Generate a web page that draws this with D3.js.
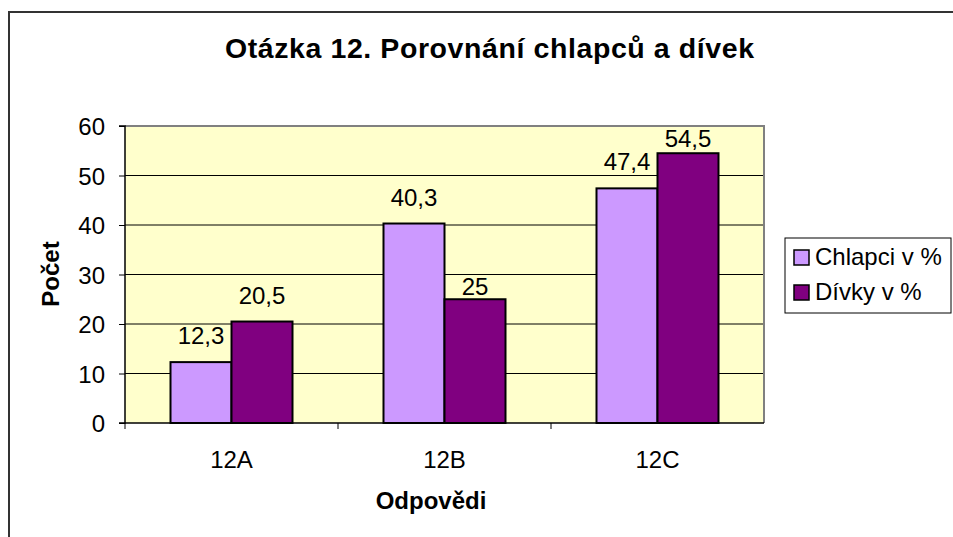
<!DOCTYPE html>
<html><head><meta charset="utf-8">
<script src="https://cdn.jsdelivr.net/npm/d3@7"></script>
<style>body{margin:0;background:#fff;}svg{display:block;font-family:"Liberation Sans",Arial,sans-serif;}</style>
</head><body>
<svg id="c" width="953" height="537"></svg>
<script>
const categories = ["12A", "12B", "12C"];
const seriesNames = ["Chlapci v %", "Dívky v %"];
const chlapci = [12.3, 40.3, 47.4];
const divky = [20.5, 25, 54.5];
const yTicks = [0, 10, 20, 30, 40, 50, 60];
const colors = ["#CC99FF", "#800080"];
const titleText = "Otázka 12. Porovnání chlapců a dívek";
const yTitle = "Počet";
const xTitle = "Odpovědi";

const svg = d3.select("#c");
const L = 125, R = 764, T = 126, B = 423;
const FS = 24;

// outer chart border (left + top)
svg.append("path").attr("d", `M9,537V12H953`).attr("fill","none").attr("stroke","#333").attr("stroke-width",2);

svg.append("text").attr("x", 225).attr("y", 58)
  .attr("font-size", 28.5).attr("font-weight","bold")
  .attr("textLength", 529).attr("lengthAdjust","spacing").text(titleText);

const x0 = d3.scaleBand().domain(categories).range([L, R]);
const barW = 61;
const x1 = d3.scaleBand().domain(seriesNames).range([0, barW*2]);
const y = d3.scaleLinear().domain([0, 60]).range([B, T]);

// plot bg
svg.append("rect").attr("x", L).attr("y", T).attr("width", R-L).attr("height", B-T).attr("fill","#FFFFCC");
// grid
svg.append("g").selectAll("line").data(yTicks.filter(d=>d>0 && d<60)).join("line")
  .attr("x1", L).attr("x2", R).attr("y1", d=>y(d)).attr("y2", d=>y(d)).attr("stroke","#000").attr("stroke-width",1);
// plot border top/right gray
svg.append("path").attr("d", `M${L},${T}H${R}V${B}`).attr("fill","none").attr("stroke","#808080").attr("stroke-width",2);

const data = categories.map((c,i)=>({c, vals:[chlapci[i], divky[i]]}));
const groups = svg.append("g").selectAll("g").data(data).join("g")
  .attr("transform", d=>`translate(${x0(d.c) + (x0.bandwidth()-barW*2)/2},0)`);
groups.selectAll("rect").data(d=>d.vals.map((v,j)=>({v,j}))).join("rect")
  .attr("x", d=>x1(seriesNames[d.j])).attr("width", x1.bandwidth())
  .attr("y", d=>y(d.v)).attr("height", d=>B - y(d.v))
  .attr("fill", d=>colors[d.j]).attr("stroke","#000").attr("stroke-width",2);
groups.selectAll("text").data(d=>d.vals.map((v,j)=>({v,j}))).join("text")
  .attr("x", d=>x1(seriesNames[d.j]) + x1.bandwidth()/2)
  .attr("y", d=>{ let yy = y(d.v) - 18; if (d.v === 25) yy = y(d.v) - 4; return Math.max(yy, 147); })
  .attr("text-anchor","middle").attr("font-size",FS).text(d=>String(d.v).replace(".", ","));

// axes
const yAxis = d3.axisLeft(y).tickValues(yTicks).tickSize(6).tickPadding(14);
const gy = svg.append("g").attr("transform",`translate(${L},0)`).call(yAxis);
gy.select(".domain").attr("stroke","#000").attr("stroke-width",1.5).attr("d", `M-6,${T}H0V${B}H-6`);
gy.selectAll("text").attr("font-size",FS).attr("fill","#000").attr("font-family","Liberation Sans, Arial, sans-serif").attr("dy","0.36em");
gy.selectAll(".tick line").attr("stroke","#000");

svg.append("line").attr("x1", L).attr("x2", R).attr("y1", B).attr("y2", B).attr("stroke","#000").attr("stroke-width",1.5);
svg.append("g").selectAll("line").data(categories.slice(1)).join("line")
  .attr("x1", d=>x0(d)).attr("x2", d=>x0(d)).attr("y1", B).attr("y2", B+6).attr("stroke","#000");
svg.append("line").attr("x1", L).attr("x2", L).attr("y1", B).attr("y2", B+6).attr("stroke","#000");
svg.append("g").selectAll("text").data(categories).join("text")
  .attr("x", d=>x0(d)+x0.bandwidth()/2).attr("y", 468).attr("text-anchor","middle").attr("font-size",FS).text(d=>d);

svg.append("text").attr("x", 431).attr("y", 509).attr("text-anchor","middle").attr("font-size",FS).attr("font-weight","bold").text(xTitle);
svg.append("text").attr("transform","translate(59,274) rotate(-90)").attr("text-anchor","middle").attr("font-size",FS).attr("font-weight","bold").text(yTitle);

// legend
const lg = svg.append("g");
lg.append("rect").attr("x",785).attr("y",238).attr("width",166).attr("height",75).attr("fill","#fff").attr("stroke","#000").attr("stroke-width",1);
seriesNames.forEach((s,i)=>{
  const base = 265 + i*35;
  lg.append("rect").attr("x",794).attr("y",base-15).attr("width",15).attr("height",15).attr("fill",colors[i]).attr("stroke","#000").attr("stroke-width",1.5);
  lg.append("text").attr("x",815).attr("y",base).attr("font-size",FS).text(s);
});
</script>
</body></html>
